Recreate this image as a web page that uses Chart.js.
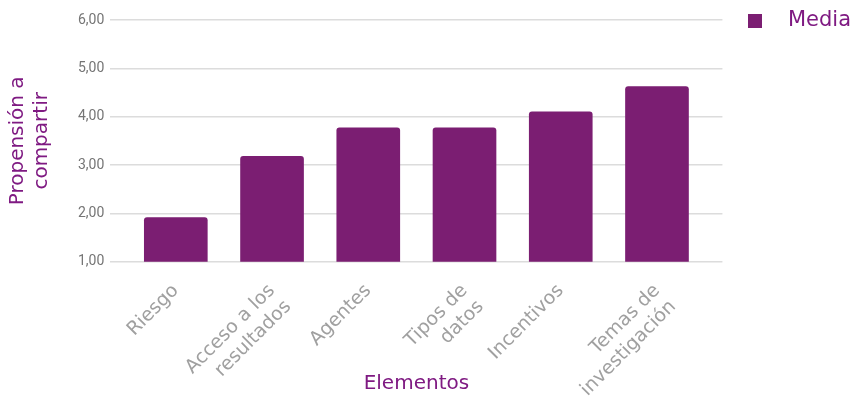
<!DOCTYPE html>
<html>
<head>
<meta charset="utf-8">
<script src="https://cdn.jsdelivr.net/npm/chart.js@4.4.0/dist/chart.umd.min.js"></script>
<style>
  html, body { margin: 0; padding: 0; background: #fff; }
  #wrap { width: 851px; height: 396px; position: relative; }
</style>
</head>
<body>
<div id="wrap"><canvas id="chart"></canvas></div>
<script>
const categories = [
  "Riesgo",
  ["Acceso a los", "resultados"],
  "Agentes",
  ["Tipos de", "datos"],
  "Incentivos",
  ["Temas de", "investigación"],
];
const media = [1.91, 3.18, 3.77, 3.77, 4.10, 4.62];
const yTicks = [1, 2, 3, 4, 5, 6];

const purple = "#7b1e72";
const titlePurple = "#7f1a82";
const fontFamily = "DejaVu Sans";

// small square used as legend symbol
const legendSquare = document.createElement("canvas");
legendSquare.width = 14;
legendSquare.height = 14;
const sq = legendSquare.getContext("2d");
sq.fillStyle = purple;
sq.fillRect(0, 0, 14, 14);

const ctx = document.getElementById("chart");

new Chart(ctx, {
  type: "bar",
  data: {
    datasets: [
      {
        label: "Media",
        data: media.map((v, i) => ({ x: i, y: v })),
        backgroundColor: purple,
        borderRadius: 3,
        borderSkipped: "bottom",
        barThickness: 63,
      },
    ],
  },
  options: {
    responsive: true,
    maintainAspectRatio: false,
    animation: false,
    layout: { padding: { top: -1, left: 2, right: -10, bottom: 0 } },
    scales: {
      x: {
        type: "linear",
        min: -0.68,
        max: 5.68,
        offset: false,
        grid: { display: false },
        border: { display: false },
        afterBuildTicks: (scale) => {
          scale.ticks = categories.map((c, i) => ({ value: i }));
        },
        ticks: {
          autoSkip: false,
          maxRotation: 45,
          minRotation: 45,
          color: "#a0a0a0",
          padding: 10,
          font: { family: fontFamily, size: 19 },
          callback: (value) => categories[value],
        },
        title: {
          display: true,
          text: "Elementos",
          color: titlePurple,
          padding: { top: -39, bottom: 0 },
          font: { family: fontFamily, size: 20 },
        },
      },
      y: {
        min: 1,
        max: 6,
        afterBuildTicks: (scale) => {
          scale.ticks = yTicks.map((v) => ({ value: v }));
        },
        grid: { color: "#dcdcdc", lineWidth: 1.5, drawTicks: false },
        border: { display: false },
        ticks: {
          color: "#757575",
          padding: 6,
          font: { family: "Roboto", size: 14, lineHeight: "28px" },
          callback: (value) => value.toFixed(2).replace(".", ","),
        },
        title: {
          display: true,
          text: ["Propensión a", "compartir"],
          color: titlePurple,
          padding: { top: 4, bottom: 18 },
          font: { family: fontFamily, size: 20 },
        },
      },
    },
    plugins: {
      legend: {
        position: "right",
        align: "start",
        labels: {
          usePointStyle: true,
          pointStyle: legendSquare,
          pointStyleWidth: 44,
          boxHeight: 14,
          color: titlePurple,
          padding: 11,
          font: { family: fontFamily, size: 21 },
        },
      },
      tooltip: { enabled: false },
    },
  },
});
</script>
</body>
</html>
